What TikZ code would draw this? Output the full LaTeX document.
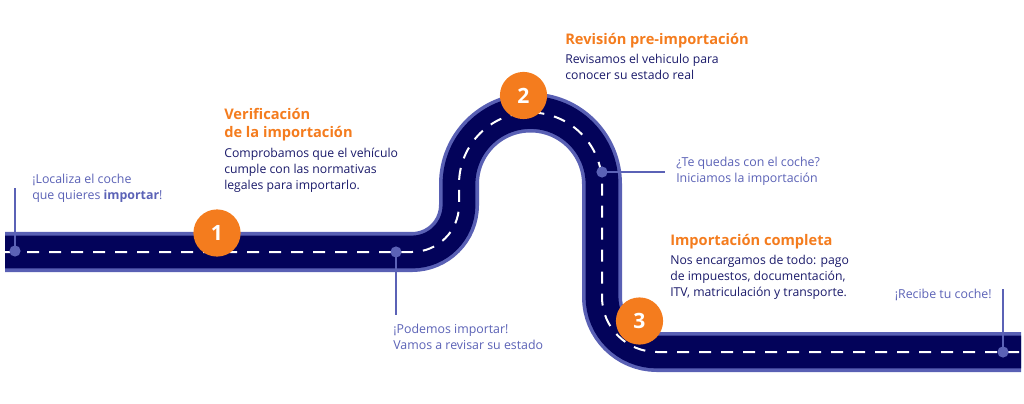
\documentclass[tikz,border=0pt]{standalone}
\usepackage{fontspec}
\setmainfont{Open Sans}
\usetikzlibrary{positioning}

\definecolor{roadnavy}{HTML}{03035A}
\definecolor{roadedge}{HTML}{5960B4}
\definecolor{steporange}{HTML}{F47C1E}
\definecolor{textnavy}{HTML}{1A1A6A}
\definecolor{notecolor}{HTML}{5B62B6}

% centre line of the road
\newcommand{\roadline}{(5,252) -- (412,252)
    arc[start angle=90, end angle=0, radius=47] -- (459,184)
    arc[start angle=180, end angle=360, radius=71.5] -- (602,297)
    arc[start angle=180, end angle=90, radius=55] -- (1021,352)}

\begin{document}
\begin{tikzpicture}[
    x=0.25mm, y=-0.25mm,
    title/.style={anchor=north west, inner sep=0pt, align=left, text=steporange,
                font=\fontsize{10.4}{13}\selectfont\bfseries},
    body/.style={anchor=north west, inner sep=0pt, align=left, text=textnavy,
                font=\fontsize{8.7}{11.4}\selectfont},
    note/.style={inner sep=0pt, align=left, text=notecolor,
                font=\fontsize{8.8}{11.4}\selectfont},
    stepnum/.style={circle, fill=steporange, text=white, minimum size=11.8mm,
                inner sep=0pt, font=\fontsize{15}{15}\selectfont\bfseries},
    dot/.style={circle, fill=notecolor, inner sep=0pt, minimum size=2.8mm},
    tick/.style={notecolor, line width=0.6mm},
]
\useasboundingbox (0,0) rectangle (1024,404);

% Road
\draw[roadedge, line width=10mm] \roadline;
\draw[roadnavy, line width=8.2mm] \roadline;
\draw[white, line width=0.5mm, dash pattern=on 3mm off 2.5mm] \roadline;

% Start
\coordinate (startTop) at (15,188);
\draw[tick] (15,251) -- (startTop);
\node[dot] (startDot) at (15,251) {};
\node[note, anchor=south west] (startNote) at (32,203) {¡Localiza el coche\\que quieres \textbf{importar}!};

% Step 1
\node[stepnum] (stepOne) at (217,233) {1};
\node[title] (verifTitle) at (224,108) {Verificación\\de la importación};
\node[body, below=1.5mm of verifTitle.south west, anchor=north west] (verifText)
    {Comprobamos que el vehículo\\cumple con las normativas\\legales para importarlo.};

% Can import
\coordinate (canBottom) at (396,315);
\draw[tick] (396,252) -- (canBottom);
\node[dot] (canDot) at (396,252) {};
\node[note, anchor=north west] (canNote) at (393,324) {¡Podemos importar!\\Vamos a revisar su estado};

% Step 2
\node[stepnum] (stepTwo) at (523.5,95.5) {2};
\node[title] (reviewTitle) at (565,33) {Revisión pre-importación};
\node[body, below=1.5mm of reviewTitle.south west, anchor=north west] (reviewText)
    {Revisamos el vehiculo para\\conocer su estado real};

% Keep the car
\coordinate (keepEnd) at (665,172);
\draw[tick] (602,172) -- (keepEnd);
\node[dot] (keepDot) at (602,172) {};
\node[note, anchor=west] (keepNote) at (676,171) {¿Te quedas con el coche?\\Iniciamos la importación};

% Step 3
\node[stepnum] (stepThree) at (639.5,321) {3};
\node[title] (doneTitle) at (670,234) {Importación completa};
\node[body, below=1.5mm of doneTitle.south west, anchor=north west] (doneText)
    {Nos encargamos de todo: pago\\de impuestos, documentación,\\ITV, matriculación y transporte.};

% Delivery
\coordinate (getTop) at (1003,289);
\draw[tick] (1003,352) -- (getTop);
\node[dot] (getDot) at (1003,352) {};
\node[note, anchor=east] (getNote) at (992,295) {¡Recibe tu coche!};

\end{tikzpicture}
\end{document}
